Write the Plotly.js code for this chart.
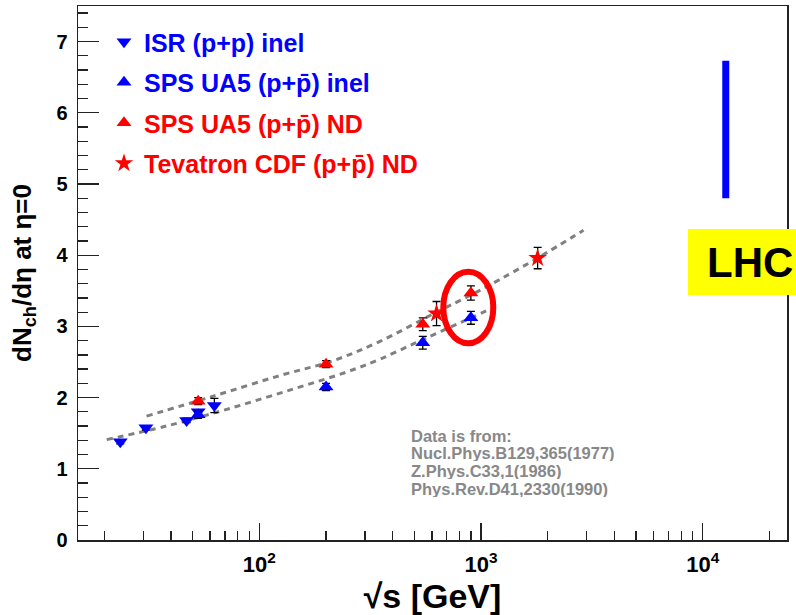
<!DOCTYPE html>
<html>
<head>
<meta charset="utf-8">
<script src="https://cdn.plot.ly/plotly-3.0.1.min.js"></script>
<style>html,body{margin:0;padding:0;background:#fff;}#chart{width:796px;height:615px;}</style>
</head>
<body>
<div id="chart"></div>
<script>
// ---- data ----
const isrX = [23.6, 30.8, 47, 53, 62.7];
const isrY = [1.38, 1.575, 1.68, 1.80, 1.89];
const isrErr = [0.03, 0.03, 0.03, 0.03, 0.10];

const ua5InelX = [53, 200, 546, 900];
const ua5InelY = [1.76, 2.15, 2.77, 3.12];
const ua5InelErr = [0.05, 0.05, 0.09, 0.09];

const ua5NdX = [53, 200, 546, 900];
const ua5NdY = [1.95, 2.47, 3.03, 3.47];
const ua5NdErr = [0.05, 0.05, 0.09, 0.10];

const cdfX = [630, 1800];
const cdfY = [3.18, 3.96];
const cdfErr = [0.17, 0.15];

// dashed fit curves
const fitNdX = [31, 62, 124, 216, 350, 630, 900, 1200, 1800, 2900];
const fitNdY = [1.74, 2.02, 2.31, 2.52, 2.79, 3.20, 3.44, 3.65, 3.96, 4.35];
const fitInelX = [20.5, 38, 74, 142, 248, 350, 550, 900, 1150];
const fitInelY = [1.41, 1.60, 1.85, 2.12, 2.36, 2.54, 2.82, 3.12, 3.27];

// LHC expectation band
const lhcX = [12700, 12700];
const lhcY = [4.80, 6.73];

// labels
const seriesNames = [
  'ISR (p+p) inel',
  'SPS UA5 (p+p\u0304) inel',
  'SPS UA5 (p+p\u0304) ND',
  'Tevatron CDF (p+p\u0304) ND'
];
const xTickVals = [100, 1000, 10000];
const xTickText = ['10<sup>2</sup>', '10<sup>3</sup>', '10<sup>4</sup>'];
const refLines = ['Data is from:', 'Nucl.Phys.B129,365(1977)', 'Z.Phys.C33,1(1986)', 'Phys.Rev.D41,2330(1990)'];

const FONT = 'Liberation Sans, Arial, Helvetica, sans-serif';
const BLUE = '#0000ff', RED = '#ff0000';

// plot-area geometry helpers (pixels -> paper fractions)
const L = 78, T = 6, W = 709, H = 534;
const px = v => (v - L) / W;
const py = v => (T + H - v) / H;

const minorX = [];
for (const dec of [10, 100, 1000, 10000]) {
  for (let k = 2; k <= 9; k++) { const v = k * dec; if (v > 15 && v < 24000) minorX.push(v); }
}

function err(arr) {
  return {type: 'data', array: arr, visible: true, color: '#000', thickness: 1.3, width: 4};
}

const traces = [
  {x: fitNdX, y: fitNdY, mode: 'lines', line: {color: '#808080', width: 3, dash: '6px,5px', shape: 'spline'}, showlegend: false, hoverinfo: 'skip'},
  {x: fitInelX, y: fitInelY, mode: 'lines', line: {color: '#808080', width: 3, dash: '6px,5px', shape: 'spline'}, showlegend: false, hoverinfo: 'skip'},
  {x: lhcX, y: lhcY, mode: 'lines', line: {color: BLUE, width: 7}, showlegend: false, hoverinfo: 'skip'},
  {x: isrX, y: isrY, error_y: err(isrErr), mode: 'markers', name: '<span style="color:' + BLUE + '">' + seriesNames[0] + '</span>',
   marker: {symbol: 'triangle-down', size: 13, color: BLUE}, legendgroup: 'a'},
  {x: ua5InelX, y: ua5InelY, error_y: err(ua5InelErr), mode: 'markers', name: '<span style="color:' + BLUE + '">' + seriesNames[1] + '</span>',
   marker: {symbol: 'triangle-up', size: 13, color: BLUE}, legendgroup: 'b'},
  {x: ua5NdX, y: ua5NdY, error_y: err(ua5NdErr), mode: 'markers', name: '<span style="color:' + RED + '">' + seriesNames[2] + '</span>',
   marker: {symbol: 'triangle-up', size: 13, color: RED}, legendgroup: 'c'},
  {x: cdfX, y: cdfY, error_y: err(cdfErr), mode: 'markers', name: '<span style="color:' + RED + '">' + seriesNames[3] + '</span>',
   marker: {symbol: 'star', size: 14, color: RED}, legendgroup: 'd'}
];

const annotations = refLines.map((t, i) => ({
  text: '<b>' + t + '</b>', xref: 'paper', yref: 'paper',
  x: px(410), y: py(435 + i * 17.8), xanchor: 'left', yanchor: 'middle', height: 17, borderpad: 0,
  showarrow: false, font: {family: FONT, size: 16.5, color: '#888888'}
}));
annotations.push({
  text: '<b>LHC</b>', xref: 'paper', yref: 'paper', x: px(749.5), y: py(262),
  xanchor: 'center', yanchor: 'middle', showarrow: false, font: {family: FONT, size: 42, color: '#000'}
});

const layout = {
  width: 796, height: 615,
  margin: {l: L, r: 796 - L - W, t: T, b: 615 - T - H},
  paper_bgcolor: '#fff', plot_bgcolor: '#fff',
  showlegend: true,
  legend: {
    xref: 'paper', yref: 'paper', x: px(104), y: py(19), xanchor: 'left', yanchor: 'top',
    bgcolor: 'rgba(0,0,0,0)', borderwidth: 0, traceorder: 'grouped', tracegroupgap: 5,
    font: {family: FONT, size: 25, weight: 'bold', color: '#000'}
  },
  xaxis: {
    type: 'log', range: [1.1822, 4.380], showgrid: false, zeroline: false,
    showline: true, linecolor: '#222', linewidth: 1.5, mirror: true,
    ticks: 'inside', ticklen: 17, tickwidth: 1.3, tickcolor: '#222',
    tickvals: xTickVals, ticktext: xTickText, ticklabelstandoff: 4,
    tickfont: {family: FONT, size: 22, weight: 'bold', color: '#000'},
    minor: {ticks: 'inside', ticklen: 9, tickwidth: 1.3, tickcolor: '#222', tickvals: minorX, showgrid: false},
    title: {text: '\u221As [GeV]', font: {family: FONT, size: 34, weight: 'bold', color: '#000'}, standoff: 8}
  },
  yaxis: {
    range: [0, 7.5], showgrid: false, zeroline: false,
    showline: true, linecolor: '#222', linewidth: 1.5, mirror: true,
    ticks: 'inside', ticklen: 21, tickwidth: 1.3, tickcolor: '#222', dtick: 1, tick0: 0,
    tickfont: {family: FONT, size: 20, weight: 'bold', color: '#000'}, ticklabelstandoff: 5,
    minor: {ticks: 'inside', ticklen: 10, tickwidth: 1.3, tickcolor: '#222', dtick: 0.2, showgrid: false},
    title: {text: 'dN<sub>ch</sub>/d\u03B7 at \u03B7=0', font: {family: FONT, size: 26, weight: 'bold', color: '#000'}, standoff: 17}
  },
  shapes: [
    {type: 'circle', xref: 'paper', yref: 'paper', x0: px(443.3), x1: px(493.3), y0: py(343.3), y1: py(271.7),
     line: {color: RED, width: 6}, layer: 'above'},
    {type: 'rect', xref: 'paper', yref: 'paper', x0: px(688), x1: px(796),
     y0: py(295), y1: py(229), fillcolor: '#ffff00', line: {width: 0}, layer: 'above'}
  ],
  annotations: annotations
};

Plotly.newPlot('chart', traces, layout, {displayModeBar: false, staticPlot: true});
</script>
</body>
</html>
